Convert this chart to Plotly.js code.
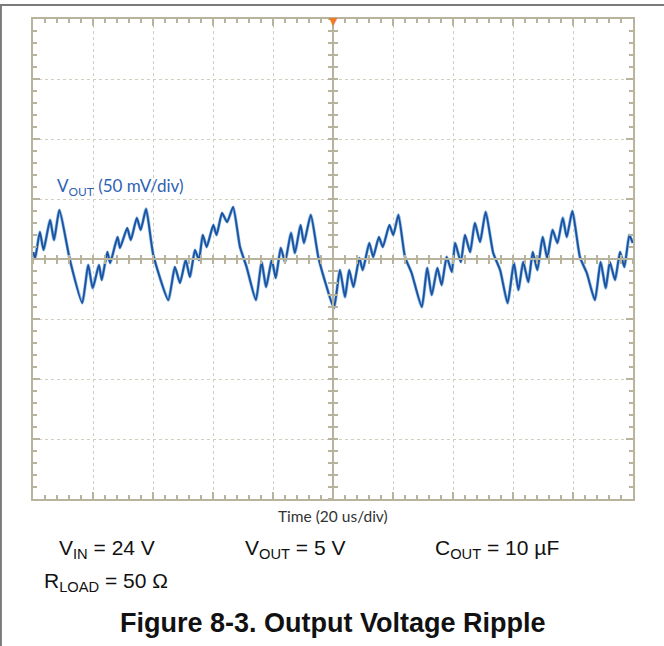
<!DOCTYPE html>
<html>
<head>
<meta charset="utf-8">
<script src="https://cdn.plot.ly/plotly-3.0.1.min.js"></script>
<style>html,body{margin:0;padding:0;background:#fff;}#chart{width:664px;height:646px;}</style>
</head>
<body>
<div id="chart"></div>
<script>
// Time in microseconds (20 us/div), output ripple in mV (50 mV/div)
const timeUs = [-99.9,-99.3,-97.7,-96.5,-94.3,-93.0,-91.2,-87.7,-83.6,-81.6,-80.1,-78.0,-77.1,-75.2,-74.3,-71.8,-71.0,-68.6,-67.4,-65.4,-64.1,-62.3,-59.9,-54.9,-52.7,-51.0,-49.1,-47.7,-46.0,-44.7,-43.4,-42.1,-39.9,-38.8,-37.0,-35.3,-33.3,-31.0,-28.8,-25.7,-23.8,-22.3,-20.4,-19.1,-17.4,-16.0,-14.0,-12.7,-10.8,-9.7,-7.4,-4.9,-2.1,0.3,2.3,4.0,5.4,6.8,8.8,9.9,12.1,13.4,15.3,16.6,18.8,20.1,21.8,24.0,26.2,29.6,31.4,32.9,34.8,36.2,37.9,39.6,40.7,42.6,44.0,45.7,47.3,49.0,50.9,53.4,55.7,58.2,60.3,61.8,63.4,65.1,66.6,68.1,69.9,71.4,73.2,74.8,76.6,77.9,79.8,82.3,84.6,87.3,89.2,90.9,92.3,94.0,95.7,97.1,98.8,99.9];
const rippleMv = [5.8,0.8,22.5,7.5,32.5,15.8,40.8,-0.8,-36.7,-5,-24.2,-5,-17.5,5.8,-3.3,18.3,9.2,25.8,15.8,34.2,24.2,41.7,3.3,-34.2,-6.7,-20,-0.8,-15,7.5,-0.8,20,10,28.3,20,38.3,30.8,43.3,10,-6.7,-34.2,-2.5,-23.3,-0.8,-15.8,9.2,-2.5,21.7,5,28.3,13.3,36.7,1.7,-23.3,-40.8,-9.2,-31.7,-9.2,-23.3,0.8,-9.2,13.3,1.7,18.3,10,28.3,20,36.7,1.7,-11.7,-40,-7.5,-30,-7.5,-21.7,1.7,-10.8,13.3,-2.5,20,5.8,30,14.2,39.2,5,-9.2,-36.7,-3.3,-25.8,-2.5,-19.2,5.8,-9.2,18.3,0.8,24.2,13.3,34.2,18.3,40,1.7,-11.7,-34.2,-2.5,-24.2,-2.5,-17.5,5.8,-6.7,20,13.3];

const xRange = [-100, 100];
const yRange = [-200, 200];
const frameColor = '#b8b39c';
const gridColor = '#d2cfc2';

const traces = [
  {x: timeUs, y: rippleMv, type: 'scatter', mode: 'lines', line: {color: '#8dbde6', width: 3.2, shape: 'spline', smoothing: 0.5}, hoverinfo: 'skip', showlegend: false},
  {x: timeUs, y: rippleMv, type: 'scatter', mode: 'lines', line: {color: '#1c52a0', width: 1.9, shape: 'spline', smoothing: 0.5}, showlegend: false},
  {x: [], y: [], xaxis: 'x2', yaxis: 'y', showlegend: false},
  {x: [], y: [], xaxis: 'x3', yaxis: 'y', showlegend: false},
  {x: [], y: [], xaxis: 'x', yaxis: 'y2', showlegend: false},
  {x: [], y: [], xaxis: 'x', yaxis: 'y3', showlegend: false}
];

const centerAxis = (extra) => Object.assign({
  range: xRange, anchor: 'free', position: 0.5, showgrid: false, zeroline: false,
  showticklabels: false, tickcolor: frameColor, tickwidth: 1.5, ticklen: 4, fixedrange: true
}, extra);

const layout = {
  width: 664, height: 646,
  margin: {l: 33, r: 31, t: 19, b: 147},
  paper_bgcolor: '#ffffff', plot_bgcolor: '#ffffff',
  showlegend: false,
  xaxis: {
    range: xRange, dtick: 20, tick0: 0, showgrid: true, gridcolor: gridColor, griddash: 'dot', gridwidth: 1,
    zeroline: false, showline: true, mirror: 'ticks', linecolor: frameColor, linewidth: 2,
    ticks: 'inside', ticklen: 7, tickcolor: frameColor, tickwidth: 1.5, showticklabels: false,
    minor: {dtick: 4, ticks: 'inside', ticklen: 4, tickcolor: frameColor, tickwidth: 1.5, showgrid: false},
    fixedrange: true
  },
  yaxis: {
    range: yRange, dtick: 50, tick0: 0, showgrid: true, gridcolor: gridColor, griddash: 'dot', gridwidth: 1,
    zeroline: false, showline: true, mirror: 'ticks', linecolor: frameColor, linewidth: 2,
    ticks: 'inside', ticklen: 7, tickcolor: frameColor, tickwidth: 1.5, showticklabels: false,
    minor: {dtick: 10, ticks: 'inside', ticklen: 4, tickcolor: frameColor, tickwidth: 1.5, showgrid: false},
    fixedrange: true
  },
  xaxis2: centerAxis({overlaying: 'x', dtick: 4, tick0: 0, ticks: 'outside', showline: true, linecolor: frameColor, linewidth: 2}),
  xaxis3: centerAxis({overlaying: 'x', dtick: 4, tick0: 0, ticks: 'inside', showline: false}),
  yaxis2: centerAxis({range: yRange, overlaying: 'y', dtick: 10, tick0: 0, ticks: 'outside', showline: true, linecolor: frameColor, linewidth: 2}),
  yaxis3: centerAxis({range: yRange, overlaying: 'y', dtick: 10, tick0: 0, ticks: 'inside', showline: false}),
  shapes: [
    {type: 'line', xref: 'paper', yref: 'paper', x0: -0.06, x1: 1.06, y0: 1.029, y1: 1.029, line: {color: '#7a7a7a', width: 2}},
    {type: 'line', xref: 'paper', yref: 'paper', x0: -0.0535, x1: -0.0535, y0: 1.029, y1: -0.31, line: {color: '#7a7a7a', width: 2}}
  ],
  annotations: [
    {text: '▼', xref: 'x', yref: 'paper', x: 0, y: 0.994, xanchor: 'center', yanchor: 'middle', showarrow: false,
     font: {family: 'DejaVu Sans', size: 11, color: '#f07a28'}},
    {text: 'V<sub>OUT</sub> (50 mV/div)', xref: 'paper', yref: 'paper', x: 0.0367, y: 0.65, xanchor: 'left', yanchor: 'middle',
     showarrow: false, font: {family: 'Lato', size: 17, color: '#2e62b3'}},
    {text: 'Time (20 us/div)', xref: 'paper', yref: 'paper', x: 0.5, y: -0.0354, xanchor: 'center', yanchor: 'middle',
     showarrow: false, font: {family: 'Lato', size: 15.5, color: '#333333'}},
    {text: 'V<sub>IN</sub> = 24 V', xref: 'paper', yref: 'paper', x: 0.04, y: -0.104, xanchor: 'left', yanchor: 'middle',
     showarrow: false, font: {family: 'Liberation Sans', size: 21, color: '#111111'}},
    {text: 'V<sub>OUT</sub> = 5 V', xref: 'paper', yref: 'paper', x: 0.35, y: -0.104, xanchor: 'left', yanchor: 'middle',
     showarrow: false, font: {family: 'Liberation Sans', size: 21, color: '#111111'}},
    {text: 'C<sub>OUT</sub> = 10 µF', xref: 'paper', yref: 'paper', x: 0.6667, y: -0.104, xanchor: 'left', yanchor: 'middle',
     showarrow: false, font: {family: 'Liberation Sans', size: 21, color: '#111111'}},
    {text: 'R<sub>LOAD</sub> = 50 Ω', xref: 'paper', yref: 'paper', x: 0.015, y: -0.173, xanchor: 'left', yanchor: 'middle',
     showarrow: false, font: {family: 'Liberation Sans', size: 21, color: '#111111'}},
    {text: '<b>Figure 8-3. Output Voltage Ripple</b>', xref: 'paper', yref: 'paper', x: 0.5, y: -0.258, xanchor: 'center', yanchor: 'middle',
     showarrow: false, font: {family: 'Liberation Sans', size: 27, color: '#111111'}}
  ]
};

Plotly.newPlot('chart', traces, layout, {staticPlot: true, displayModeBar: false});
</script>
</body>
</html>
